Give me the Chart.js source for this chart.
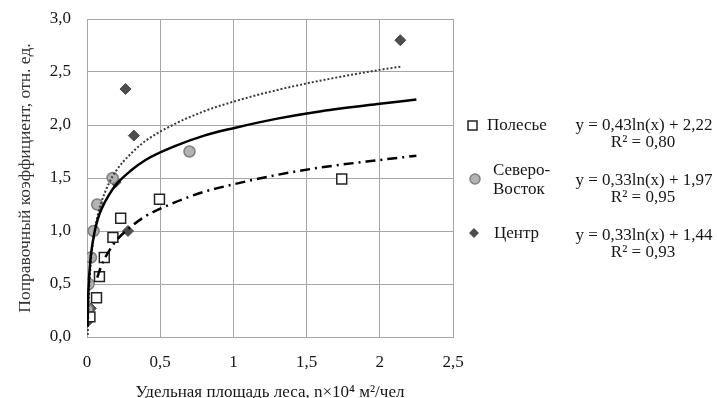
<!DOCTYPE html>
<html>
<head>
<meta charset="utf-8">
<script src="https://cdn.jsdelivr.net/npm/chart.js@4/dist/chart.umd.min.js"></script>
<style>
  html, body { margin: 0; padding: 0; background: #fff; }
  #wrap { width: 717px; height: 398px; position: relative; }
</style>
</head>
<body>
<div id="wrap"><canvas id="chart"></canvas></div>
<script>
const POLESYE_X = [0.02, 0.065, 0.085, 0.118, 0.177, 0.23, 0.495, 1.74];
const POLESYE_Y = [0.19, 0.37, 0.57, 0.75, 0.94, 1.12, 1.30, 1.49];
const NE_X = [0.002, 0.011, 0.027, 0.045, 0.07, 0.175, 0.70];
const NE_Y = [0.26, 0.50, 0.75, 1.00, 1.25, 1.50, 1.75];
const CENTER_X = [0.0, 0.012, 0.026, 0.195, 0.28, 0.263, 0.32, 2.14];
const CENTER_Y = [0.14, 0.21, 0.27, 1.46, 1.00, 2.34, 1.90, 2.80];

// Линии тренда (точки, снятые вдоль кривых на рисунке)
const SOLID_X = [0.0035, 0.006, 0.01, 0.02, 0.03, 0.05, 0.075, 0.1, 0.15, 0.2, 0.3, 0.4, 0.6, 0.8, 1.0, 1.3, 1.6, 2.0, 2.25];
const SOLID_Y = [0.10, 0.28, 0.45, 0.68, 0.81, 0.98, 1.12, 1.21, 1.34, 1.44, 1.57, 1.67, 1.80, 1.90, 1.97, 2.06, 2.13, 2.20, 2.24];
const DOTTED_X = [0.005, 0.01, 0.02, 0.03, 0.05, 0.075, 0.1, 0.15, 0.2, 0.3, 0.4, 0.6, 0.8, 1.0, 1.3, 1.6, 2.0, 2.14];
const DOTTED_Y = [0.02, 0.28, 0.58, 0.76, 0.98, 1.16, 1.28, 1.45, 1.57, 1.73, 1.85, 2.01, 2.13, 2.22, 2.33, 2.42, 2.52, 2.55];
const DASHDOT_X = [0.07, 0.1, 0.15, 0.2, 0.3, 0.4, 0.6, 0.8, 1.0, 1.3, 1.6, 2.0, 2.25];
const DASHDOT_Y = [0.56, 0.68, 0.81, 0.91, 1.04, 1.14, 1.27, 1.37, 1.44, 1.53, 1.60, 1.67, 1.71];

const X_TICKS = ['0', '0,5', '1', '1,5', '2', '2,5'];
const Y_TICKS = ['0,0', '0,5', '1,0', '1,5', '2,0', '2,5', '3,0'];

const LEGEND_NAMES = [['Полесье'], ['Северо-', 'Восток'], ['Центр']];
const LEGEND_EQ = ['y = 0,43ln(x) + 2,22', 'y = 0,33ln(x) + 1,97', 'y = 0,33ln(x) + 1,44'];
const LEGEND_R2 = ['R² = 0,80', 'R² = 0,95', 'R² = 0,93'];

const FONT = "'Liberation Serif', 'Times New Roman', serif";
const INK = '#161616';
const GRID = '#a6a6a6';

const pts = (xs, ys) => xs.map((x, i) => ({ x, y: ys[i] }));

// Легенда с уравнениями справа от поля графика
const legendPlugin = {
  id: 'sideLegend',
  afterDraw(chart) {
    const ctx = chart.ctx;
    ctx.save();
    ctx.font = '17px ' + FONT;
    ctx.textBaseline = 'middle';
    // маркеры
    ctx.lineWidth = 1.5;
    ctx.strokeStyle = '#222';
    ctx.fillStyle = '#fff';
    ctx.fillRect(468, 121, 9, 9);
    ctx.strokeRect(468, 121, 9, 9);
    ctx.beginPath();
    ctx.arc(475, 179, 5, 0, Math.PI * 2);
    ctx.fillStyle = '#b3b3b3';
    ctx.fill();
    ctx.strokeStyle = '#7f7f7f';
    ctx.stroke();
    ctx.beginPath();
    ctx.moveTo(474, 228); ctx.lineTo(479, 233); ctx.lineTo(474, 238); ctx.lineTo(469, 233);
    ctx.closePath();
    ctx.fillStyle = '#4d4d4d';
    ctx.fill();
    // подписи
    ctx.fillStyle = INK;
    ctx.textAlign = 'left';
    ctx.fillText(LEGEND_NAMES[0][0], 487, 126);
    ctx.fillText(LEGEND_NAMES[1][0], 493, 171);
    ctx.fillText(LEGEND_NAMES[1][1], 493, 190);
    ctx.fillText(LEGEND_NAMES[2][0], 494, 234);
    ctx.textAlign = 'center';
    const eqY = [126, 181, 236];
    const r2Y = [143, 198, 253];
    for (let i = 0; i < 3; i++) {
      ctx.fillText(LEGEND_EQ[i], 644, eqY[i]);
      ctx.fillText(LEGEND_R2[i], 643, r2Y[i]);
    }
    ctx.restore();
  },
};

new Chart(document.getElementById('chart'), {
  type: 'scatter',
  data: {
    datasets: [
      { label: 'solid', data: pts(SOLID_X, SOLID_Y), showLine: true, borderColor: '#000', borderWidth: 2.5,
        pointRadius: 0, cubicInterpolationMode: 'monotone', order: 0 },
      { label: 'dotted', data: pts(DOTTED_X, DOTTED_Y), showLine: true, borderColor: '#3a3a3a', borderWidth: 2,
        borderDash: [2, 2], pointRadius: 0, cubicInterpolationMode: 'monotone', order: 0 },
      { label: 'dashdot', data: pts(DASHDOT_X, DASHDOT_Y), showLine: true, borderColor: '#000', borderWidth: 2.5,
        borderDash: [10, 5, 2, 5], pointRadius: 0, cubicInterpolationMode: 'monotone', order: 0 },
      { label: 'Полесье', data: pts(POLESYE_X, POLESYE_Y), pointStyle: 'rect', pointRadius: 7,
        backgroundColor: '#fff', borderColor: '#222', borderWidth: 1.5, order: 1 },
      { label: 'Северо-Восток', data: pts(NE_X, NE_Y), pointStyle: 'circle', pointRadius: 5.5,
        backgroundColor: '#b3b3b3', borderColor: '#7f7f7f', borderWidth: 1.5, order: 1 },
      { label: 'Центр', data: pts(CENTER_X, CENTER_Y), pointStyle: 'rectRot', pointRadius: 5.5,
        backgroundColor: '#4d4d4d', borderColor: '#4d4d4d', borderWidth: 1, order: 1 },
    ],
  },
  options: {
    responsive: true,
    maintainAspectRatio: false,
    animation: false,
    layout: { padding: { left: 0, top: 19, right: 264, bottom: 0 } },
    plugins: { legend: { display: false }, tooltip: { enabled: false } },
    scales: {
      x: {
        type: 'linear', min: 0, max: 2.5,
        ticks: { stepSize: 0.5, color: INK, font: { family: FONT, size: 17 }, padding: 15,
          callback: (v, i) => X_TICKS[i] },
        grid: { color: GRID, drawTicks: false },
        border: { color: GRID },
        title: { display: true, text: 'Удельная площадь леса, n×10⁴ м²/чел', color: INK,
          font: { family: FONT, size: 17, lineHeight: 1 }, padding: { top: 0, bottom: -3 } },
        afterFit: (s) => { s.height = 61; s.paddingLeft = 0; s.paddingRight = 0; },
      },
      y: {
        type: 'linear', min: 0, max: 3,
        ticks: { stepSize: 0.5, color: INK, font: { family: FONT, size: 17 }, padding: 16,
          callback: (v, i) => Y_TICKS[i] },
        grid: { color: GRID, drawTicks: false },
        border: { color: GRID },
        title: { display: true, text: 'Поправочный коэффициент, отн. ед.', color: '#333',
          font: { family: FONT, size: 17.5, lineHeight: 1 }, padding: { top: 17 } },
        afterFit: (s) => { s.width = 87; s.paddingTop = 0; s.paddingBottom = 0; },
      },
    },
  },
  plugins: [legendPlugin],
});
</script>
</body>
</html>
